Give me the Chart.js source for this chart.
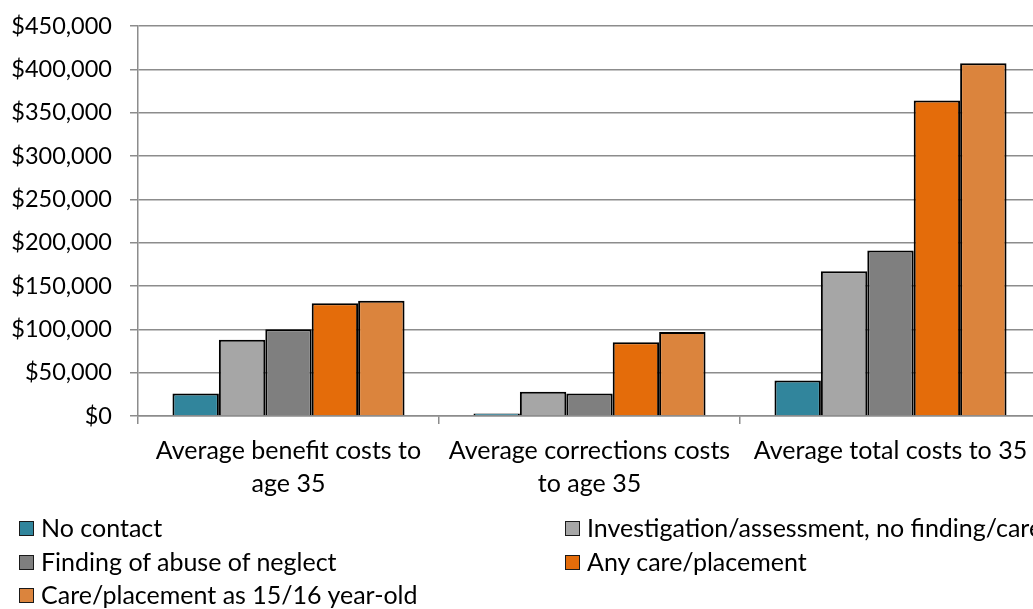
<!DOCTYPE html>
<html>
<head>
<meta charset="utf-8">
<script src="https://cdn.jsdelivr.net/npm/chart.js@4/dist/chart.umd.min.js"></script>
<style>
  html, body { margin: 0; padding: 0; background: #fff; }
  body { width: 1033px; height: 609px; overflow: hidden; position: relative; font-family: Lato, "Open Sans", sans-serif; }
  #wrap { position: absolute; left: 0; top: 0; width: 1060px; height: 500px; }
  #legend { position: absolute; left: 0; top: 0; width: 1200px; height: 609px; pointer-events: none; }
  .txt { position: absolute; white-space: nowrap; font-size: 25px; line-height: 30px; color: #000; }
  .box { position: absolute; width: 13px; height: 13px; border: 1.5px solid #1a1a1a; }
</style>
</head>
<body>
<div id="wrap"><canvas id="c" width="1060" height="500"></canvas></div>
<div id="legend"></div>
<script>
const categories = [
  ["Average benefit costs to", "age 35"],
  ["Average corrections costs", "to age 35"],
  ["Average total costs to 35"]
];
const seriesNames = [
  "No contact",
  "Investigation/assessment, no finding/care",
  "Finding of abuse of neglect",
  "Any care/placement",
  "Care/placement as 15/16 year-old"
];
const noContact     = [26000, 3000, 41000];
const investigation = [88000, 28000, 167000];
const finding       = [100000, 26000, 191000];
const anyCare       = [130000, 85000, 364000];
const care1516      = [133000, 97000, 407000];
const yTicks = [0, 50000, 100000, 150000, 200000, 250000, 300000, 350000, 400000, 450000];

const colors = ["#31859C", "#A6A6A6", "#7F7F7F", "#E46C0A", "#DB843D"];
const values = [noContact, investigation, finding, anyCare, care1516];

const FONT = "Lato, 'Open Sans', sans-serif";
const AXIS = "#8c8c8c";

const datasets = values.map((v, i) => ({
  label: seriesNames[i],
  data: v,
  backgroundColor: colors[i],
  borderColor: "#000",
  borderWidth: 2,
  borderSkipped: "bottom",
  categoryPercentage: 0.771,
  barPercentage: 1.0
}));

new Chart(document.getElementById("c"), {
  type: "bar",
  data: { labels: categories, datasets },
  options: {
    responsive: false,
    animation: false,
    layout: { padding: { top: 26, right: 19, left: 0, bottom: 0 } },
    plugins: { legend: { display: false }, tooltip: { enabled: false } },
    scales: {
      x: {
        offset: true,
        grid: { display: true, drawOnChartArea: false, drawTicks: true, tickLength: 8, color: AXIS, lineWidth: 1.5, offset: true },
        border: { display: true, color: AXIS, width: 1.5 },
        ticks: { color: "#000", font: { family: FONT, size: 25, lineHeight: 1.32 }, padding: 10, maxRotation: 0, autoSkip: false },
        afterFit: s => { s.height = 84; }
      },
      y: {
        min: 0,
        max: 450000,
        afterBuildTicks: s => { s.ticks = yTicks.map(v => ({ value: v })); },
        grid: { color: AXIS, lineWidth: 1.5, drawTicks: true, tickLength: 8 },
        border: { display: true, color: AXIS, width: 1.5 },
        ticks: {
          color: "#000",
          font: { family: FONT, size: 23.5 },
          padding: 18,
          callback: v => "$" + Number(v).toLocaleString("en-US")
        },
        afterFit: s => { s.width = 138; s.paddingTop = 0; s.paddingBottom = 0; }
      }
    }
  }
});

// Two-column legend below the chart (positions given as text baselines)
const legendPos = [
  { x: 19, base: 537 }, { x: 565, base: 537 },
  { x: 19, base: 571 }, { x: 565, base: 571 },
  { x: 19, base: 604 }
];
const legend = document.getElementById("legend");
seriesNames.forEach((name, i) => {
  const p = legendPos[i];
  const box = document.createElement("div");
  box.className = "box";
  box.style.left = p.x + "px";
  box.style.top = (p.base - 16) + "px";
  box.style.background = colors[i];
  const txt = document.createElement("div");
  txt.className = "txt";
  txt.style.left = (p.x + 22) + "px";
  txt.style.top = (p.base - 25.2) + "px";
  txt.textContent = name;
  legend.appendChild(box);
  legend.appendChild(txt);
});
</script>
</body>
</html>
